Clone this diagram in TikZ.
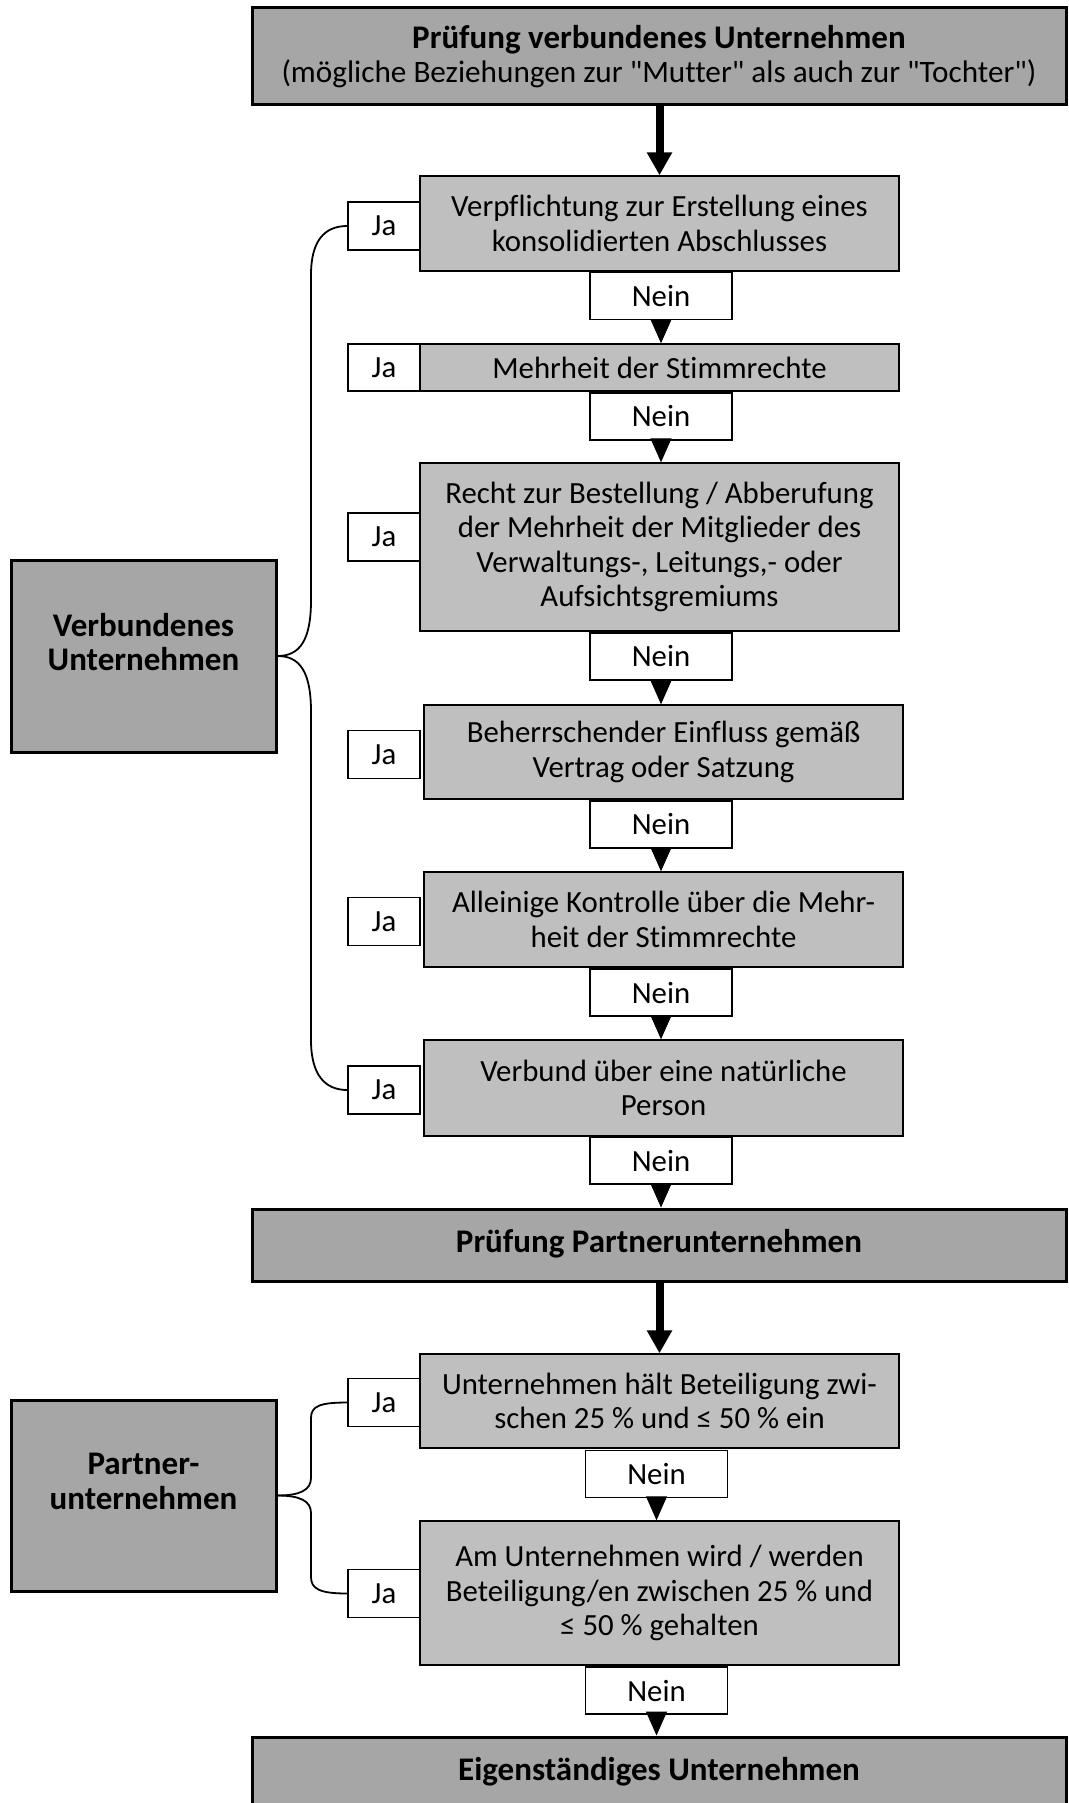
\documentclass[tikz,border=0pt]{standalone}
\usepackage{fontspec}
\setmainfont{Carlito}[Ligatures={TeXOff, CommonOff}]
\usetikzlibrary{arrows.meta}

\definecolor{headGray}{HTML}{A6A6A6}
\definecolor{askGray}{HTML}{BFBFBF}
\newcommand{\lowstrut}[1]{\rule[-#1]{0pt}{#1}}

\begin{document}
\begin{tikzpicture}[x=0.5pt, y=-0.5pt, inner sep=0pt, align=center,
    font=\fontsize{15.4}{17.25}\selectfont]
    \clip (0, 0) rectangle (1069, 1803);
    \begin{scope}[every node/.style = {draw, line width=1.5pt, fill=headGray, minimum width=407pt,
        font=\fontsize{16.5}{17.25}\selectfont\bfseries}]
      \node[minimum height=48.5pt] (checkLinked) at (659, 56.5)
        {Prüfung verbundenes Unternehmen\\{\fontsize{15.6}{17.25}\selectfont\mdseries (mögliche Beziehungen zur "Mutter" als auch zur "Tochter")}};
      \node[minimum height=36pt] (checkPartner) at (659, 1245) {Prüfung Partnerunternehmen\lowstrut{4pt}};
      \node[minimum height=36pt] (independent) at (659, 1773) {Eigenständiges Unternehmen\lowstrut{4pt}};
      \node[minimum width=132.5pt, minimum height=96pt] (linkedSide) at (143.5, 656) {Verbundenes\\Unternehmen\lowstrut{14pt}};
      \node[minimum width=132.5pt, minimum height=95.5pt] (partnerSide) at (143.5, 1495.5) {Partner-\\unternehmen\lowstrut{14pt}};
    \end{scope}
    \begin{scope}[every node/.style = {draw, line width=0.7pt, fill=askGray, minimum width=239.5pt}]
      \node[minimum height=47.5pt] (askConsolidated) at (659.5, 223.5) {Verpflichtung zur Erstellung eines\\konsolidierten Abschlusses};
      \node[minimum height=23.5pt] (askVotes)        at (659.5, 367.5) {Mehrheit der Stimmrechte};
      \node[minimum height=84pt]   (askAppoint)      at (659.5, 547)   {Recht zur Bestellung / Abberufung\\der Mehrheit der Mitglieder des\\Verwaltungs-, Leitungs,- oder\\Aufsichtsgremiums};
      \node[minimum height=47pt]   (askInfluence)    at (663.5, 752)   {Beherrschender Einfluss gemäß\\Vertrag oder Satzung};
      \node[minimum height=47.5pt] (askControl)      at (663.5, 919.5) {Alleinige Kontrolle über die Mehr-\\heit der Stimmrechte};
      \node[minimum height=48pt]   (askPerson)       at (663.5, 1088)  {Verbund über eine natürliche\\Person};
      \node[minimum height=47pt]   (askHolds)        at (659.5, 1401)  {Unternehmen hält Beteiligung zwi-\\schen 25 \% und ≤ 50 \% ein};
      \node[minimum height=72pt]   (askHeld)         at (659.5, 1593)  {Am Unternehmen wird / werden\\Beteiligung/en zwischen 25 \% und\\≤ 50 \% gehalten};
    \end{scope}
    \begin{scope}[every node/.style = {draw, line width=0.7pt, fill=white, minimum width=36pt, minimum height=24pt}]
      \node (jaConsolidated) at (384, 226)    {Ja};
      \node[minimum height=23.5pt] (jaVotes) at (384, 367.5) {Ja};
      \node (jaAppoint)      at (384, 537)    {Ja};
      \node (jaInfluence)    at (384, 754.5)  {Ja};
      \node (jaControl)      at (384, 921.5)  {Ja};
      \node (jaPerson)       at (384, 1090)   {Ja};
      \node (jaHolds)        at (384, 1402.5) {Ja};
      \node (jaHeld)         at (384, 1593.5) {Ja};
    \end{scope}
    \begin{scope}[every node/.style = {draw, line width=0.7pt, fill=white, minimum width=71pt, minimum height=23.5pt}]
      \node (neinConsolidated) at (661, 296)    {Nein};
      \node (neinVotes)        at (661, 416.5)  {Nein};
      \node (neinAppoint)      at (661, 656.5)  {Nein};
      \node (neinInfluence)    at (661, 824.5)  {Nein};
      \node (neinControl)      at (661, 992.5)  {Nein};
      \node (neinPerson)       at (661, 1160.5) {Nein};
      \node (neinHolds)        at (656.5, 1474) {Nein};
      \node (neinHeld)         at (656.5, 1690.5) {Nein};
    \end{scope}
    \begin{scope}[line width=4pt, -{Triangle[width=12pt, length=11.5pt]}]
      \draw (checkLinked.south -| askConsolidated) to (askConsolidated.north);
      \draw (checkPartner.south -| askHolds) to (askHolds.north);
    \end{scope}
    \begin{scope}[line width=0.5pt, -{Triangle[width=10.5pt, length=12pt]}]
      \draw (neinConsolidated.south) to (neinConsolidated.south |- askVotes.north);
      \draw (neinVotes.south)        to (neinVotes.south |- askAppoint.north);
      \draw (neinAppoint.south)      to (neinAppoint.south |- askInfluence.north);
      \draw (neinInfluence.south)    to (neinInfluence.south |- askControl.north);
      \draw (neinControl.south)      to (neinControl.south |- askPerson.north);
      \draw (neinPerson.south)       to (neinPerson.south |- checkPartner.north);
      \draw (neinHolds.south)        to (neinHolds.south |- askHeld.north);
      \draw (neinHeld.south)         to (neinHeld.south |- independent.north);
    \end{scope}
    \begin{scope}[line width=0.9pt]
      \draw (linkedSide.east) .. controls (300, 656) and (311, 640) .. (311, 600)
        -- (311, 275) .. controls (311, 240) and (325, 226) .. (jaConsolidated.west);
      \draw (linkedSide.east) .. controls (300, 656) and (311, 672) .. (311, 712)
        -- (311, 1040) .. controls (311, 1075) and (325, 1090) .. (jaPerson.west);
      \draw (partnerSide.east) .. controls (300, 1495.5) and (311, 1490) .. (311, 1478)
        -- (311, 1418) .. controls (311, 1406) and (320, 1402.5) .. (jaHolds.west);
      \draw (partnerSide.east) .. controls (300, 1495.5) and (311, 1501) .. (311, 1513)
        -- (311, 1577) .. controls (311, 1589) and (320, 1593.5) .. (jaHeld.west);
    \end{scope}
\end{tikzpicture}
\end{document}
